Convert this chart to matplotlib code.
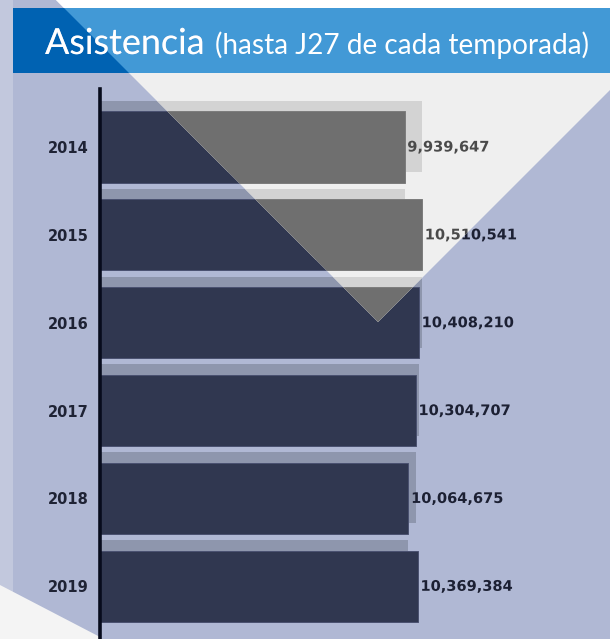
import matplotlib.pyplot as plt
import matplotlib.patheffects as pe
from matplotlib.patches import Polygon, Rectangle

# Datos: asistencia acumulada hasta la jornada 27
years = ['2014', '2015', '2016', '2017', '2018', '2019']
asistencia = [9939647, 10510541, 10408210, 10304707, 10064675, 10369384]
# the faded bar behind each row repeats the previous season (the first row shows 2015)
sombra = [asistencia[1]] + asistencia[:-1]

W, H = 610, 639

# colour sets: outside / inside the light triangle
OUT = dict(bar='#303750', edge='#4a5170', shadow='#8e96ad', text='#1c2033')
IN = dict(bar='#6f6f6f', edge='#7c7c7c', shadow='#d3d3d3', text='#4a4a4a')

# text drawn as paths so that it can be clipped to the triangle
AS_PATH = [pe.Normal()]


def fit_width(txt, width_px):
    # scale the font so the text spans width_px pixels
    r = fig.canvas.get_renderer()
    w = txt.get_window_extent(r).width
    txt.set_fontsize(txt.get_fontsize() * width_px / w)


fig = plt.figure(figsize=(W / 100, H / 100), dpi=100)
fig.patch.set_facecolor('#b0b8d4')

# background decoration in pixel coordinates
bg = fig.add_axes([0, 0, 1, 1], zorder=0)
bg.set_xlim(0, W)
bg.set_ylim(H, 0)
bg.axis('off')

tri = Polygon([(56, 0), (700, 0), (378, 322)], closed=True, transform=bg.transData)
outside = Polygon([(0, 0), (56, 0), (378, 322), (700, 0), (700, H), (0, H)],
                  closed=True, transform=bg.transData)

bg.add_patch(Rectangle((0, 0), 13, H, color='#c2c8dd', lw=0))
bg.add_patch(Polygon([(0, 585), (100, 637), (100, H), (0, H)], color='#f4f4f4', lw=0))
bg.add_patch(Polygon([(56, 0), (700, 0), (378, 322)], color='#efefef', lw=0))
top = bg.add_patch(Rectangle((0, 0), W, 8, color='white', lw=0))
top.set_clip_path(tri)

# title band
bg.add_patch(Rectangle((13, 8), W - 13, 65, color='#0062b2', lw=0))
band = bg.add_patch(Rectangle((13, 8), W - 13, 65, color='#4299d6', lw=0))
band.set_clip_path(tri)

t_out = bg.text(45, 54, 'Asistencia', family='Lato', fontsize=22, color='#c6cce2',
                va='baseline', path_effects=AS_PATH)
t_in = bg.text(45, 54, 'Asistencia', family='Lato', fontsize=22, color='white',
               va='baseline', path_effects=AS_PATH)
sub = bg.text(215, 54, '(hasta J27 de cada temporada)', family='Lato', fontsize=15,
              color='white', va='baseline')
fit_width(t_out, 159)
fit_width(t_in, 159)
fit_width(sub, 375)
t_out.set_clip_path(outside)
t_in.set_clip_path(tri)

# main bar chart
ax = fig.add_axes([100 / W, 0, 500 / W, (H - 89) / H], zorder=1)
ax.patch.set_alpha(0)
pos = list(range(len(years)))
ax.set_xlim(0, 16.32e6)
ax.set_ylim(5.6, -0.66)


def draw_layer(pal, clip):
    arts = []
    arts += list(ax.barh([p - 0.12 for p in pos], sombra, height=0.81,
                         color=pal['shadow'], lw=0))
    arts += list(ax.barh(pos, asistencia, height=0.81, color=pal['bar'],
                         edgecolor=pal['edge'], lw=0.7))
    for p, v in zip(pos, asistencia):
        arts.append(ax.annotate(f'{v:,}', (v, p), xytext=(2, 0), textcoords='offset points',
                                va='center', ha='left', fontsize=10.5, fontweight='bold',
                                color=pal['text'], annotation_clip=False,
                                path_effects=AS_PATH))
    for a in arts:
        a.set_clip_on(True)
        a.set_clip_path(clip)


draw_layer(OUT, outside)
draw_layer(IN, tri)

for s in ['top', 'right', 'bottom']:
    ax.spines[s].set_visible(False)
ax.spines['left'].set_color('#070b1c')
ax.spines['left'].set_linewidth(2.6)
ax.set_xticks([])
ax.set_yticks(pos, years, fontsize=10.5, fontweight='bold', color='#1f2335')
ax.tick_params(axis='y', length=0, pad=8)

fig.savefig('out.png', dpi=100, facecolor=fig.get_facecolor())
